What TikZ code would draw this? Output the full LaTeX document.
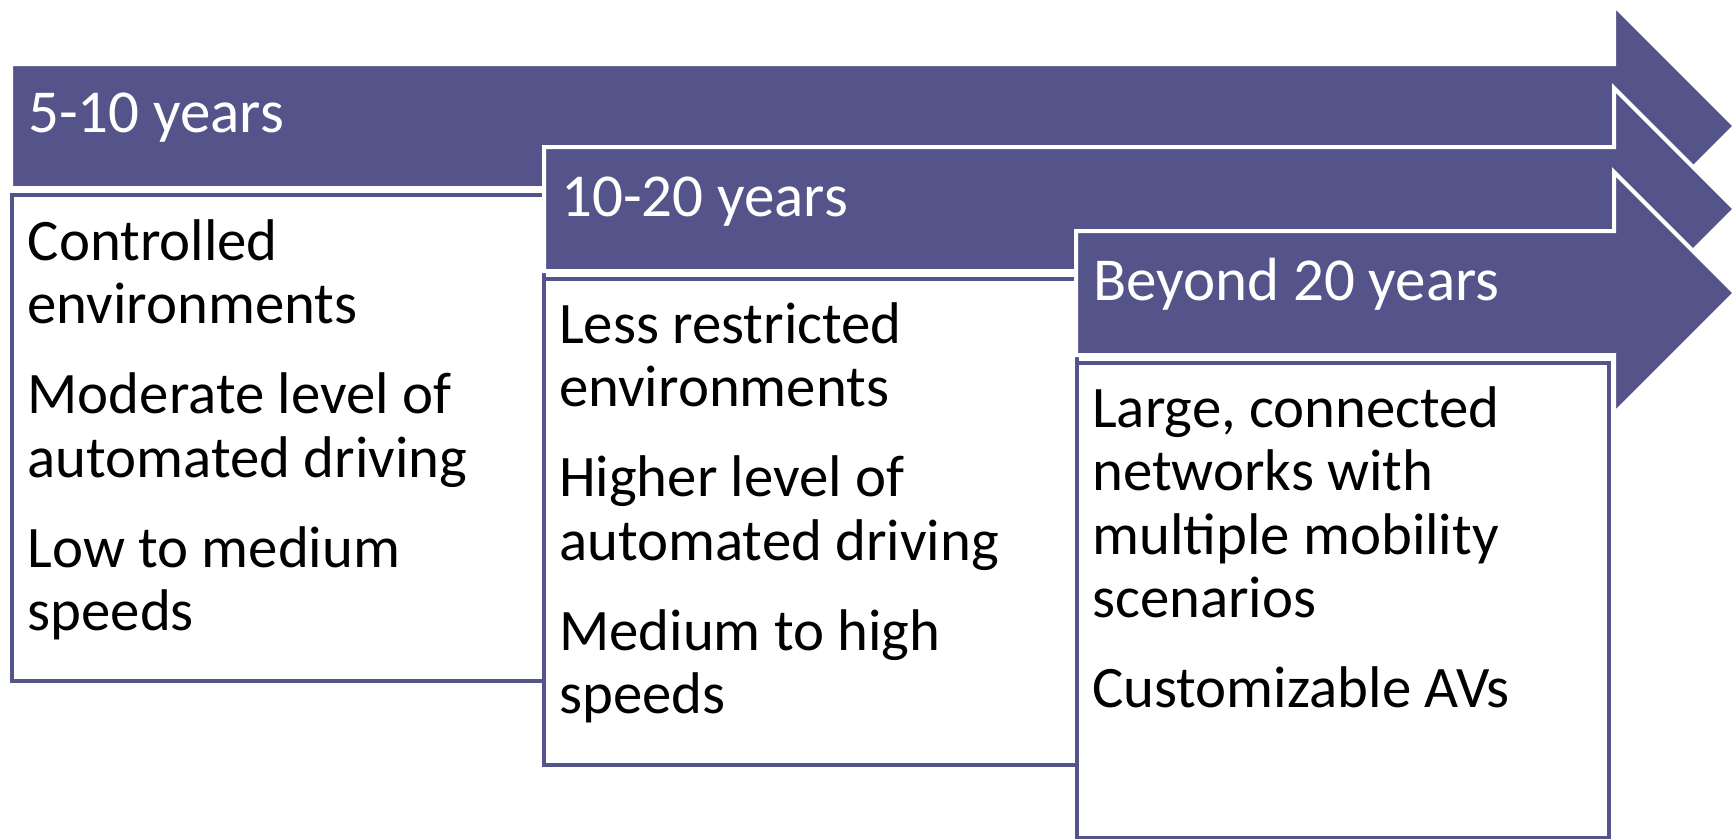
\documentclass[tikz,border=0pt]{standalone}
\usepackage{fontspec}
\setmainfont{Carlito}
\definecolor{plum}{RGB}{84,84,138}
\begin{document}
\begin{tikzpicture}[x=1pt,y=-1pt,
  stagearrow/.style={fill=plum, draw=white, line width=4pt, line join=miter},
  stagebox/.style={rectangle, draw=plum, fill=white, line width=4pt, inner sep=0pt, anchor=north west},
  stagehead/.style={text=white, anchor=base west, inner sep=0pt, font=\fontsize{61}{66}\selectfont},
  stagetext/.style={anchor=north west, inner sep=0pt, align=left, font=\fontsize{58.8}{63.5}\selectfont}]
\useasboundingbox (0,0) rectangle (1732,838);

% first stage: 5-10 years
\path[stagearrow] (11,64) -- (1614,64) -- (1614,5) -- (1735,126) -- (1614,247) -- (1614,188) -- (11,188) -- cycle;
\node[stagehead] (h1) at (28,132) {5-10 years};
\node[stagebox, minimum width=531.5pt, minimum height=485.5pt] (b1) at (10,193) {};
\node[stagetext] (t1) at (27.5,210) {\rule{0pt}{50pt}Controlled\\environments\\[26.5pt]Moderate level of\\automated driving\\[26.5pt]Low to medium\\speeds};

% second stage: 10-20 years
\path[stagearrow] (544,147) -- (1614,147) -- (1614,88) -- (1735,209) -- (1614,330) -- (1614,271) -- (544,271) -- cycle;
\node[stagehead] (h2) at (561,216) {10-20 years};
\node[stagebox, minimum width=533pt, minimum height=485.5pt] (b2) at (541.5,277) {};
\node[stagetext] (t2) at (559,293) {\rule{0pt}{50pt}Less restricted\\environments\\[26.5pt]Higher level of\\automated driving\\[26.5pt]Medium to high\\speeds};

% third stage: beyond 20 years
\path[stagearrow] (1076,231) -- (1614,231) -- (1614,172) -- (1735,293) -- (1614,414) -- (1614,355) -- (1076,355) -- cycle;
\node[stagehead] (h3) at (1093,300) {Beyond 20 years};
\node[stagebox, minimum width=532.5pt, minimum height=475pt] (b3) at (1074.5,361) {};
\node[stagetext] (t3) at (1092,377) {\rule{0pt}{50pt}Large, connected\\networks with\\multiple mobility\\scenarios\\[26.5pt]Customizable AVs};
\end{tikzpicture}
\end{document}
